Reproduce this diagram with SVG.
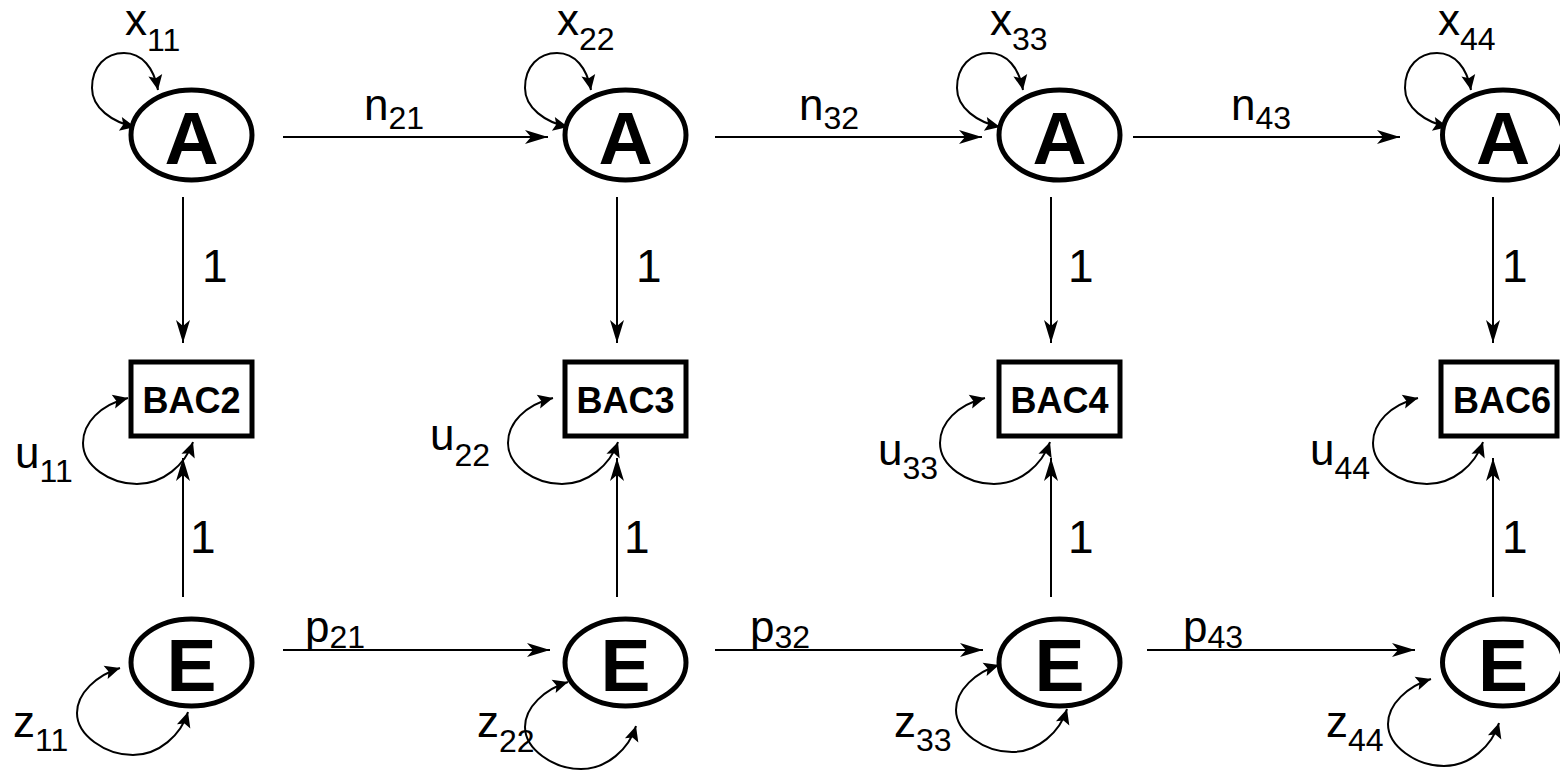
<svg xmlns="http://www.w3.org/2000/svg" width="1560" height="773" viewBox="0 0 1560 773">
<style>
.bg{fill:#fff}
.node ellipse,.node rect{fill:#fff;stroke:#000;stroke-width:5}
.big{font-family:"Liberation Sans",Arial,sans-serif;font-weight:bold;font-size:75px;text-anchor:middle;fill:#000}
.box{font-family:"Liberation Sans",Arial,sans-serif;font-weight:bold;font-size:36px;text-anchor:middle;fill:#000}
.lbl{font-family:"Liberation Sans",Arial,sans-serif;font-size:44px;fill:#000}
.sub{font-size:32px}
.one{font-size:46px}
.conn line{stroke:#000;stroke-width:2;fill:none;marker-end:url(#arr)}
.conn use{stroke:#000;stroke-width:2;fill:none;marker-start:url(#lh);marker-end:url(#lh)}
</style>
<defs>
<marker id="arr" markerUnits="userSpaceOnUse" viewBox="-24 -8 25 16" refX="0" refY="0" markerWidth="25" markerHeight="16" orient="auto"><path d="M0,0 L-23,-7 L-17,0 L-23,7 Z" fill="#000" stroke="none"/></marker>
<marker id="lh" markerUnits="userSpaceOnUse" viewBox="-16 -8 17 16" refX="0" refY="0" markerWidth="17" markerHeight="16" orient="auto-start-reverse"><path d="M0,0 L-15,-7 L-12,0 L-15,7 Z" fill="#000" stroke="none"/></marker>
<path id="aloop" d="M43,127 C20,122 0,108 0,88 C0,66 14,53 32,53 C50,53 62,68 66,90"/>
<path id="uloop" d="M45,398 C17,405 0,423 0,443 C0,466 27,484 54,484 C80,484 102,465 110,442"/>
<path id="zloop" d="M43,-45 C20,-38 0,-20 0,0 C0,22 28,42 56,42 C82,42 104,22 111,-1"/>
</defs>
<rect class="bg" x="0" y="0" width="1560" height="773"/>

<g id="connectors" class="conn">
<line x1="283" y1="137" x2="548" y2="137"/>
<line x1="715" y1="137" x2="982" y2="137"/>
<line x1="1133" y1="137" x2="1400" y2="137"/>
<line x1="283" y1="650" x2="550" y2="650"/>
<line x1="715" y1="650" x2="983" y2="650"/>
<line x1="1147" y1="650" x2="1415" y2="650"/>
<line x1="183" y1="197" x2="183" y2="343"/>
<line x1="617" y1="197" x2="617" y2="343"/>
<line x1="1051" y1="197" x2="1051" y2="343"/>
<line x1="1493" y1="197" x2="1493" y2="343"/>
<line x1="183" y1="597" x2="183" y2="458"/>
<line x1="617" y1="597" x2="617" y2="458"/>
<line x1="1051" y1="597" x2="1051" y2="458"/>
<line x1="1493" y1="597" x2="1493" y2="458"/>
<use href="#aloop" transform="translate(92,0)"/>
<use href="#aloop" transform="translate(525,0)"/>
<use href="#aloop" transform="translate(957,0)"/>
<use href="#aloop" transform="translate(1405,0)"/>
<use href="#uloop" transform="translate(83,0)"/>
<use href="#uloop" transform="translate(508,0)"/>
<use href="#uloop" transform="translate(940,0)"/>
<use href="#uloop" transform="translate(1373,0)"/>
<use href="#zloop" transform="translate(77,713)"/>
<use href="#zloop" transform="translate(525,727)"/>
<use href="#zloop" transform="translate(956,710)"/>
<use href="#zloop" transform="translate(1388,724)"/>
</g>

<g id="labels" class="lbl">
<text x="125" y="35">x<tspan class="sub" dy="16">11</tspan></text>
<text x="557" y="35">x<tspan class="sub" dy="15">22</tspan></text>
<text x="990" y="35">x<tspan class="sub" dy="15">33</tspan></text>
<text x="1438" y="35">x<tspan class="sub" dy="15">44</tspan></text>
<text x="364" y="120">n<tspan class="sub" dy="9">21</tspan></text>
<text x="799" y="120">n<tspan class="sub" dy="9">32</tspan></text>
<text x="1231" y="120">n<tspan class="sub" dy="9">43</tspan></text>
<text x="305" y="642">p<tspan class="sub" dy="6">21</tspan></text>
<text x="750" y="642">p<tspan class="sub" dy="6">32</tspan></text>
<text x="1183" y="642">p<tspan class="sub" dy="6">43</tspan></text>
<text x="15" y="468">u<tspan class="sub" dy="14">11</tspan></text>
<text x="430" y="450">u<tspan class="sub" dy="16">22</tspan></text>
<text x="878" y="465">u<tspan class="sub" dy="14">33</tspan></text>
<text x="1310" y="465">u<tspan class="sub" dy="14">44</tspan></text>
<text x="13" y="737">z<tspan class="sub" dy="14">11</tspan></text>
<text x="477" y="737">z<tspan class="sub" dy="15">22</tspan></text>
<text x="894" y="737">z<tspan class="sub" dy="14">33</tspan></text>
<text x="1326" y="737">z<tspan class="sub" dy="14">44</tspan></text>
<text class="one" x="202" y="282">1</text>
<text class="one" x="636" y="282">1</text>
<text class="one" x="1068" y="282">1</text>
<text class="one" x="1502" y="282">1</text>
<text class="one" x="190" y="553">1</text>
<text class="one" x="624" y="553">1</text>
<text class="one" x="1068" y="553">1</text>
<text class="one" x="1502" y="553">1</text>
</g>

<g id="A1" class="node"><ellipse cx="191.5" cy="135" rx="60.5" ry="45"/><text class="big" x="191.5" y="164">A</text></g>
<g id="A2" class="node"><ellipse cx="625.5" cy="135" rx="60.5" ry="45"/><text class="big" x="625.5" y="164">A</text></g>
<g id="A3" class="node"><ellipse cx="1059.5" cy="135" rx="60.5" ry="45"/><text class="big" x="1059.5" y="164">A</text></g>
<g id="A4" class="node"><ellipse cx="1503" cy="135" rx="60.5" ry="45"/><text class="big" x="1503" y="164">A</text></g>

<g id="BAC2" class="node"><rect x="131" y="362" width="121" height="74"/><text class="box" x="191.5" y="413">BAC2</text></g>
<g id="BAC3" class="node"><rect x="565" y="362" width="121" height="74"/><text class="box" x="625.5" y="413">BAC3</text></g>
<g id="BAC4" class="node"><rect x="999" y="362" width="121" height="74"/><text class="box" x="1059.5" y="413">BAC4</text></g>
<g id="BAC6" class="node"><rect x="1441" y="362" width="116" height="74"/><text class="box" x="1502" y="413">BAC6</text></g>

<g id="E1" class="node"><ellipse cx="191.5" cy="662.5" rx="60.5" ry="43.5"/><text class="big" x="191.5" y="691">E</text></g>
<g id="E2" class="node"><ellipse cx="625.5" cy="662.5" rx="60.5" ry="43.5"/><text class="big" x="625.5" y="691">E</text></g>
<g id="E3" class="node"><ellipse cx="1059.5" cy="662.5" rx="60.5" ry="43.5"/><text class="big" x="1059.5" y="691">E</text></g>
<g id="E4" class="node"><ellipse cx="1503" cy="662.5" rx="60.5" ry="43.5"/><text class="big" x="1503" y="691">E</text></g>
</svg>
